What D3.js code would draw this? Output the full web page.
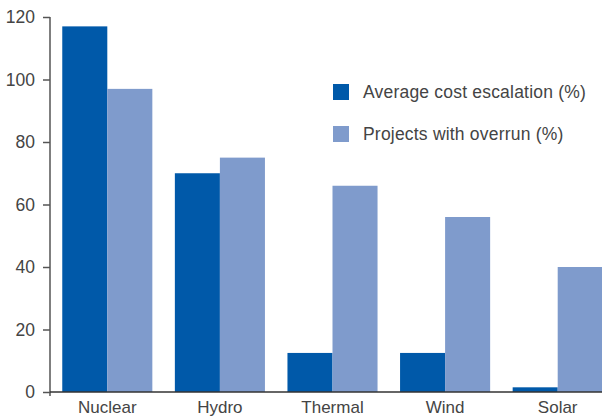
<!DOCTYPE html>
<html>
<head>
<meta charset="utf-8">
<script src="https://cdn.jsdelivr.net/npm/d3@7"></script>
<style>
  body { margin: 0; background: #fff; }
  text { font-family: "Liberation Sans", Arial, sans-serif; fill: #444; }
</style>
</head>
<body>
<script>
// chart data
var categories = ["Nuclear", "Hydro", "Thermal", "Wind", "Solar"];
var seriesNames = ["Average cost escalation (%)", "Projects with overrun (%)"];
var costEscalation = [117, 70, 12.5, 12.5, 1.5];
var projectsOverrun = [97, 75, 66, 56, 40];
var yTicks = [0, 20, 40, 60, 80, 100, 120];
var colors = ["#0059a9", "#7f9bcc"];

var W = 602, H = 416;
var svg = d3.select("body").append("svg")
    .attr("width", W)
    .attr("height", H);

var x0 = d3.scaleBand()
    .domain(categories)
    .range([51, 614])
    .paddingInner(0.2)
    .paddingOuter(0.1);

var x1 = d3.scaleBand()
    .domain([0, 1])
    .range([0, x0.bandwidth()]);

var y = d3.scaleLinear()
    .domain([0, 120])
    .range([392, 17]);

var rows = categories.map(function(c, i) {
  return { cat: c, vals: [costEscalation[i], projectsOverrun[i]] };
});

// bars
var groups = svg.selectAll("g.grp")
    .data(rows)
  .enter().append("g")
    .attr("class", "grp")
    .attr("transform", function(d) { return "translate(" + x0(d.cat) + ",0)"; });

groups.selectAll("rect")
    .data(function(d) { return d.vals; })
  .enter().append("rect")
    .attr("x", function(d, i) { return x1(i); })
    .attr("width", x1.bandwidth())
    .attr("y", function(d) { return y(d); })
    .attr("height", function(d) { return y(0) - y(d); })
    .attr("fill", function(d, i) { return colors[i]; });

// y axis
var yAxis = svg.append("g")
    .attr("transform", "translate(50,0)")
    .call(d3.axisLeft(y).tickValues(yTicks).tickSize(7).tickPadding(8));
yAxis.select(".domain").attr("stroke", "#555").attr("stroke-width", 1.5)
    .attr("d", "M0," + y(120) + "V" + (y(0) + 4));
yAxis.selectAll(".tick line").attr("stroke", "#555").attr("stroke-width", 1.5);
yAxis.selectAll(".tick text")
    .style("font-size", "17.5px")
    .attr("fill", "#444");

// x baseline + labels
svg.append("line")
    .attr("x1", 50).attr("x2", W)
    .attr("y1", y(0)).attr("y2", y(0))
    .attr("stroke", "#333")
    .attr("stroke-width", 1.5);

svg.selectAll("text.cat")
    .data(categories)
  .enter().append("text")
    .attr("class", "cat")
    .attr("x", function(d) { return x0(d) + x0.bandwidth() / 2; })
    .attr("y", 413)
    .attr("text-anchor", "middle")
    .style("font-size", "17px")
    .text(function(d) { return d; });

// legend
var legend = svg.selectAll("g.leg")
    .data(seriesNames)
  .enter().append("g")
    .attr("class", "leg")
    .attr("transform", function(d, i) { return "translate(333," + (84 + i * 42) + ")"; });

legend.append("rect")
    .attr("width", 16)
    .attr("height", 16)
    .attr("fill", function(d, i) { return colors[i]; });

legend.append("text")
    .attr("x", 30)
    .attr("y", 14)
    .style("font-size", "17.5px")
    .style("letter-spacing", "0.2px")
    .text(function(d) { return d; });
</script>
</body>
</html>
